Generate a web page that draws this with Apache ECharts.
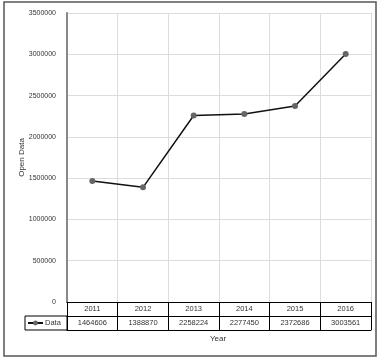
<!DOCTYPE html>
<html><head><meta charset="utf-8">
<script src="https://cdn.jsdelivr.net/npm/echarts@6/dist/echarts.min.js"></script>
<style>html,body{margin:0;padding:0;background:#fff}#c{width:381px;height:360px}</style>
</head><body><div id="c"></div>
<script>
const years = ['2011','2012','2013','2014','2015','2016'];
const values = [1464606, 1388870, 2258224, 2277450, 2372686, 3003561];
const seriesName = 'Data';
const yTicks = {min: 0, max: 3500000, interval: 500000};

const FONT = 'Liberation Sans';
const chart = echarts.init(document.getElementById('c'), null, {renderer: 'canvas'});
chart.setOption({
  animation: false,
  backgroundColor: '#fff',
  textStyle: {fontFamily: FONT},
  grid: {left: 67, right: 10, top: 13, bottom: 58},
  legend: {
    data: [seriesName], left: 27, top: 319, itemWidth: 15, itemHeight: 6, padding: 0,
    textStyle: {fontSize: 7.5, color: '#333', fontFamily: FONT, padding: [0,0,0,-3]}
  },
  xAxis: [
    {type: 'category', data: years, position: 'bottom', boundaryGap: true,
     axisLine: {lineStyle: {color: '#000', width: 1}},
     axisTick: {show: true, length: 14, lineStyle: {color: '#000'}},
     axisLabel: {margin: 3, fontSize: 7.5, color: '#333', fontFamily: FONT},
     splitLine: {show: true, lineStyle: {color: '#dcdcdc', width: 1}}},
    {type: 'category', data: values.map(String), position: 'bottom', offset: 14, boundaryGap: true,
     axisLine: {lineStyle: {color: '#000', width: 1}},
     axisTick: {show: true, length: 14, lineStyle: {color: '#000'}},
     axisLabel: {margin: 3, fontSize: 7.5, color: '#333', fontFamily: FONT},
     splitLine: {show: false}},
    {type: 'category', data: years, position: 'bottom', offset: 28, boundaryGap: true,
     axisLine: {lineStyle: {color: '#000', width: 1}},
     axisTick: {show: false}, axisLabel: {show: false}, splitLine: {show: false}}
  ],
  yAxis: {
    type: 'value', min: yTicks.min, max: yTicks.max, interval: yTicks.interval,
    name: 'Open Data', nameLocation: 'middle', nameRotate: 90, nameGap: 41, nameMoveOverlap: false,
    nameTextStyle: {fontSize: 8, color: '#333', fontFamily: FONT},
    axisLine: {show: true, lineStyle: {color: '#888', width: 2}},
    axisTick: {show: false},
    axisLabel: {margin: 11, fontSize: 7, color: '#333', fontFamily: FONT, formatter: v => String(v)},
    splitLine: {show: true, lineStyle: {color: '#dcdcdc', width: 1}}
  },
  series: [{
    name: seriesName, type: 'line', data: values, xAxisIndex: 0,
    symbol: 'circle', symbolSize: 6,
    lineStyle: {color: '#111', width: 1.5},
    itemStyle: {color: '#666'}
  }],
  graphic: [
    {type: 'rect', shape: {x: 25, y: 316, width: 42, height: 14}, style: {fill: 'none', stroke: '#000', lineWidth: 1}, z: 10},
    {type: 'text', x: 218, y: 335, style: {text: 'Year', fontSize: 8, fill: '#333', fontFamily: FONT, textAlign: 'center'}},
    {type: 'rect', shape: {x: 4, y: 2, width: 372, height: 354}, style: {fill: 'none', stroke: '#555', lineWidth: 1.5}, z: 0}
  ]
});
</script></body></html>
